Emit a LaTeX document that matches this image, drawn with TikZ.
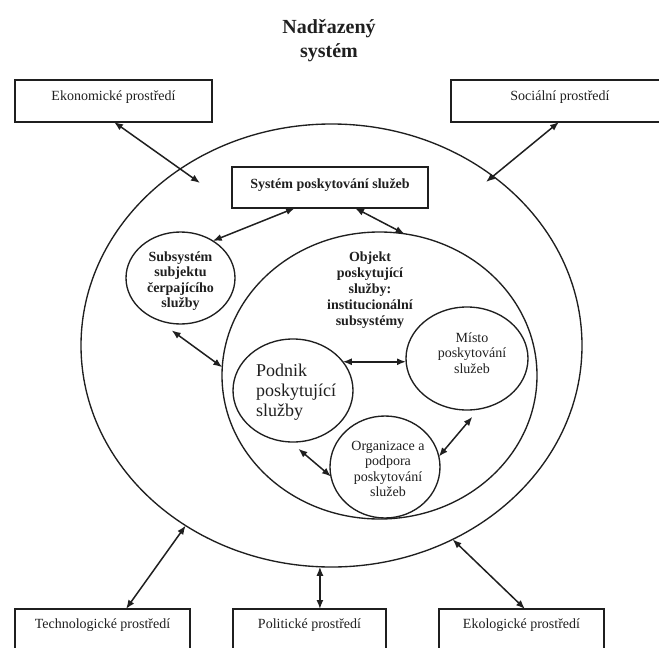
\documentclass[tikz,border=0pt]{standalone}
\usepackage{fontspec}
\setmainfont{Liberation Serif}
\usetikzlibrary{arrows.meta,shapes.geometric,calc}
\definecolor{ink}{gray}{0.12}
\begin{document}
\begin{tikzpicture}[x=1pt,y=-1pt,
  ell/.style={draw=ink, ellipse, line width=1.35pt, inner sep=0pt, outer sep=0pt},
  box/.style={draw=ink, rectangle, line width=1.4pt, inner sep=0pt, outer sep=0pt},
  lbl/.style={text=ink, font=\fontsize{14}{15.5}\selectfont, inner sep=0pt, align=center},
  blbl/.style={lbl, font=\fontsize{14}{15.5}\selectfont\bfseries},
  link/.style={draw=ink, {Latex[length=9pt,width=7pt]}-{Latex[length=9pt,width=7pt]}, line width=1.5pt}
]
\useasboundingbox (0,0) rectangle (659,648);
\clip (0,0) rectangle (659,648);

% title
\node[blbl, font=\fontsize{20}{24}\selectfont\bfseries] (title) at (329,41) {Nadřazený\\systém};

% environment boxes
\node[box, minimum width=197pt, minimum height=42pt] (ek) at (113.5,101) {};
\node[lbl] (ektxt) at (113.5,97) {Ekonomické prostředí};
\node[box, minimum width=218pt, minimum height=42pt] (soc) at (560,101) {};
\node[lbl] (soctxt) at (560,97) {Sociální prostředí};
\node[box, minimum width=175pt, minimum height=42pt] (tech) at (102.5,630) {};
\node[lbl] (techtxt) at (102.5,625) {Technologické prostředí};
\node[box, minimum width=153pt, minimum height=42pt] (pol) at (309.5,630) {};
\node[lbl] (poltxt) at (309.5,625) {Politické prostředí};
\node[box, minimum width=165pt, minimum height=42pt] (eko) at (521.5,630) {};
\node[lbl] (ekotxt) at (521.5,625) {Ekologické prostředí};

% ellipses
\node[ell, minimum width=501pt, minimum height=443pt] (outer) at (331.5,345.5) {};
\node[ell, minimum width=315pt, minimum height=287pt] (inner) at (379.5,375.5) {};
\node[ell, minimum width=109pt, minimum height=92pt] (sub) at (180.5,278) {};
\node[ell, minimum width=120pt, minimum height=103pt] (podnik) at (293,390.5) {};
\node[ell, minimum width=122pt, minimum height=103pt] (misto) at (467,358.5) {};
\node[ell, minimum width=110pt, minimum height=102pt] (org) at (385,467) {};

% central box
\node[box, fill=white, minimum width=196pt, minimum height=41pt] (sys) at (330,187.5) {};
\node[blbl] (systxt) at (330,185) {Systém poskytování služeb};

% texts in ellipses
\node[blbl] (subtxt) at (180.5,281) {Subsystém\\subjektu\\čerpajícího\\služby};
\node[blbl, font=\fontsize{14}{16}\selectfont\bfseries] (objtxt) at (370,290) {Objekt\\poskytující\\služby:\\institucionální\\subsystémy};
\node[lbl, align=left, anchor=west, font=\fontsize{18}{20}\selectfont] (podtxt) at (256,392) {Podnik\\poskytující\\služby};
\node[lbl] (mistotxt) at (472,353) {Místo\\poskytování\\služeb};
\node[lbl] (orgtxt) at (388,469) {Organizace a\\podpora\\poskytování\\služeb};

% free ends
\coordinate (ekend) at (200,183);
\coordinate (socend) at (486,182);

% connectors
\draw[link] ([xshift=0.5pt]ek.south) -- (ekend);
\draw[link] ([xshift=-1pt]soc.south) -- (socend);
\draw[link] ([xshift=-35pt]sys.south) -- (sub.49);
\draw[link] ([xshift=25pt]sys.south) -- (inner.80);
\draw[link] ([yshift=-7pt]sub.259) -- (inner.177);
\draw[link] (podnik.30) -- (podnik.30 -| misto.west);
\draw[link] ([yshift=-7pt]podnik.276) -- (org.190);
\draw[link] (org.11) -- ([yshift=-7pt]misto.276);
\draw[link] (outer.231.3) -- ([xshift=23.5pt]tech.north);
\draw[link] (outer.267) -- (outer.267 |- pol.north);
\draw[link] (outer.302.7) -- ([xshift=3.5pt]eko.north);
\end{tikzpicture}
\end{document}
